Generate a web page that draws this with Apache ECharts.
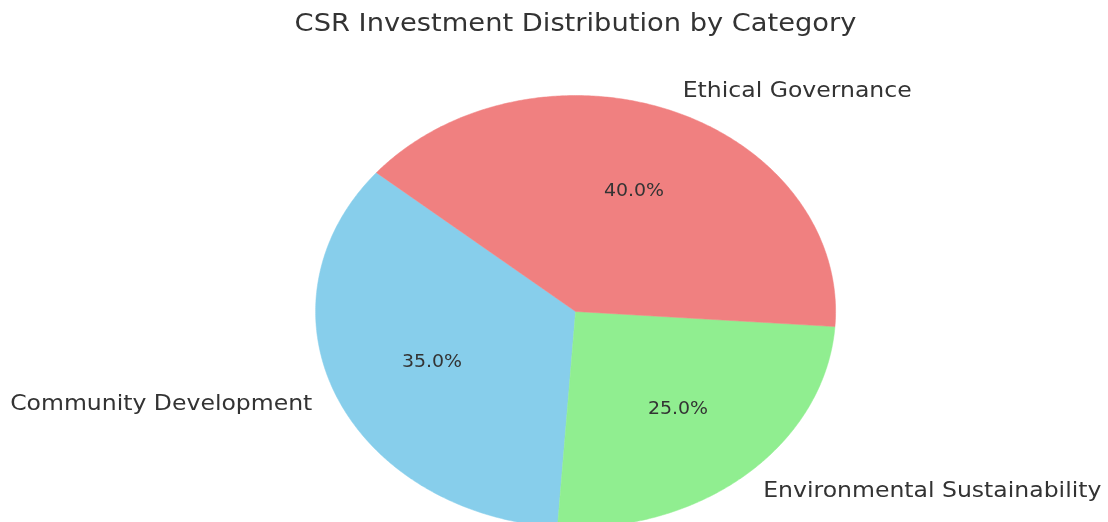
<!DOCTYPE html>
<html>
<head>
<meta charset="utf-8">
<script src="https://cdn.jsdelivr.net/npm/echarts@6/dist/echarts.min.js"></script>
<style>
  html, body { margin: 0; padding: 0; background: #fff; }
  #main { width: 1108px; height: 522px; }
</style>
</head>
<body>
<div id="main"></div>
<script>
// data
var titleText = 'CSR Investment Distribution by Category';
var categories = ['Community Development', 'Environmental Sustainability', 'Ethical Governance'];
var shares = [35, 25, 40];
var colors = ['#87CEEB', '#90EE90', '#F08080'];

// the pie is drawn squashed (axes without equal aspect), so an ellipse
var CX = 575.6, CY = 311.5, RX = 260, RY = 216;
var START = 140; // degrees, counter-clockwise
var TEXT_SX = 1.07; // text in the source is a little wider than tall

var total = shares.reduce(function(a, b) { return a + b; }, 0);

function pt(deg, k) {
	var a = deg * Math.PI / 180;
	return [CX + k * RX * Math.cos(a), CY - k * RY * Math.sin(a)];
}

function renderSlice(params, api) {
	var idx = params.dataIndex;
	var before = 0;
	for (var i = 0; i < idx; i++) before += shares[i];
	var v = api.value(0);
	var a0 = START + 360 * before / total;
	var a1 = a0 + 360 * v / total;
	var points = [[CX, CY]];
	var steps = Math.max(8, Math.ceil(a1 - a0) * 2);
	for (var s = 0; s <= steps; s++) {
		points.push(pt(a0 + (a1 - a0) * s / steps, 1));
	}
	var mid = (a0 + a1) / 2;
	var out = pt(mid, 1.1);
	var inner = pt(mid, 0.6);
	var right = Math.cos(mid * Math.PI / 180) >= 0;
	return {
		type: 'group',
		children: [{
			type: 'polygon',
			shape: { points: points },
			style: { fill: colors[idx], stroke: colors[idx], lineWidth: 0.5 }
		}, {
			type: 'text',
			x: out[0],
			y: out[1],
			scaleX: TEXT_SX,
			style: {
				text: categories[idx],
				fill: '#333',
				font: '22px "DejaVu Sans"',
				align: right ? 'left' : 'right',
				verticalAlign: 'middle'
			}
		}, {
			type: 'text',
			x: inner[0],
			y: inner[1],
			scaleX: TEXT_SX,
			style: {
				text: (100 * v / total).toFixed(1) + '%',
				fill: '#333',
				font: '17.7px "DejaVu Sans"',
				align: 'center',
				verticalAlign: 'middle'
			}
		}]
	};
}

var chart = echarts.init(document.getElementById('main'));
chart.setOption({
	animation: false,
	graphic: [{
		type: 'text',
		x: 575.5,
		y: 24,
		scaleX: TEXT_SX,
		style: {
			text: titleText,
			fill: '#333',
			font: '25.5px "DejaVu Sans"',
			align: 'center',
			verticalAlign: 'middle'
		}
	}],
	series: [{
		type: 'custom',
		coordinateSystem: 'none',
		renderItem: renderSlice,
		data: shares.map(function(v) { return [v]; })
	}]
});
</script>
</body>
</html>
